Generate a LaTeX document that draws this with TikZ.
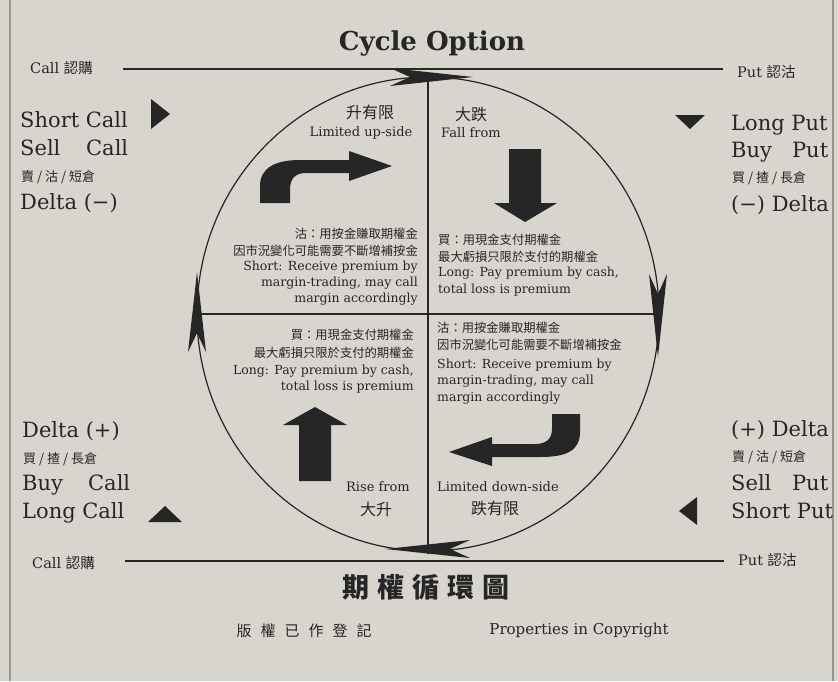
\documentclass[tikz,border=0pt]{standalone}
\usepackage{fontspec}
\setmainfont{DejaVu Serif}
\newfontfamily\cjk{Noto Sans CJK TC}
\definecolor{paper}{RGB}{216,213,206}
\definecolor{ink}{RGB}{38,38,38}
\definecolor{edge}{RGB}{150,148,142}
\tikzset{
  lab/.style={font=\fontsize{21}{23}\selectfont},
  lcjk/.style={font=\cjk\fontsize{13}{15}\selectfont},
  axlab/.style={font=\fontsize{14.5}{16}\selectfont},
  small/.style={font=\fontsize{12.5}{14}\selectfont},
  scjk/.style={font=\cjk\fontsize{12.3}{14}\selectfont},
  headtxt/.style={font=\fontsize{13}{15}\selectfont},
  hcjk/.style={font=\cjk\fontsize{16}{18}\selectfont},
  blk/.style={fill=ink, draw=none},
  axisline/.style={draw=ink, line width=2.6pt},
  rule/.style={draw=ink, line width=2.2pt},
  circ/.style={draw=ink, line width=1.2pt},
}
\begin{document}
\begin{tikzpicture}[x=1pt,y=-1pt, every node/.style={inner sep=0pt, text=ink}]
\fill[paper] (0,0) rectangle (838,681);
\useasboundingbox (0,0) rectangle (838,681);
\draw[edge, line width=1.5pt] (10,0) -- (10,681);
\draw[edge, line width=1.5pt] (833,0) -- (833,681);

% title
\node[font=\bfseries\fontsize{26}{28}\selectfont] (title) at (432,44) {Cycle Option};

% top and bottom rules
\node[axlab, anchor=west] (calltop) at (30,68) {Call {\cjk 認購}};
\node[axlab, anchor=west] (puttop) at (737,72) {Put {\cjk 認沽}};
\coordinate (rt1) at (123,69);
\coordinate (rt2) at (723,69);
\draw[rule] (rt1) -- (rt2);
\node[axlab, anchor=west] (callbot) at (32,563) {Call {\cjk 認購}};
\node[axlab, anchor=west] (putbot) at (738,560) {Put {\cjk 認沽}};
\coordinate (rb1) at (125,561);
\coordinate (rb2) at (724,561);
\draw[rule] (rb1) -- (rb2);

% circle and axes
\draw[circ] (428,314) ellipse [x radius=231, y radius=237];
\coordinate (T) at (428,72);
\coordinate (B) at (428,554);
\coordinate (L) at (197,314);
\coordinate (R) at (658,314);
\draw[axisline] (T) -- (B);
\draw[axisline] (L) -- (R);

% cycle arrowheads (clockwise)
\fill[blk] (390,68) -- (473,77) -- (390,86) -- (410,77) -- cycle;
\fill[blk] (649,274) -- (658,357) -- (667,274) -- (658,294) -- cycle;
\fill[blk] (470,540) -- (385,549) -- (470,558) -- (450,549) -- cycle;
\fill[blk] (188,352) -- (197,272) -- (206,352) -- (197,333) -- cycle;

% side labels: top left
\node[lab, anchor=west] (sc) at (20,120) {Short Call};
\node[lab, anchor=west] (slc) at (20,148) {\hbox to 108pt{Sell\hfill Call}};
\node[lcjk, anchor=west] (tlc) at (21,177) {賣 / 沽 / 短倉};
\node[lab, anchor=west] (dm) at (20,203) {Delta (−)};
\fill[blk] (151,99) -- (170,114) -- (151,129) -- cycle;

% top right
\node[lab, anchor=west] (lp) at (731,125) {Long Put};
\node[lab, anchor=west] (bp) at (731,152) {\hbox to 97pt{Buy\hfill Put}};
\node[lcjk, anchor=west] (trc) at (732,178) {買 / 揸 / 長倉};
\node[lab, anchor=west] (md) at (731,205) {(−) Delta};
\fill[blk] (675,115) -- (705,115) -- (690,129) -- cycle;

% bottom left
\node[lab, anchor=west] (dp) at (22,431) {Delta (+)};
\node[lcjk, anchor=west] (blc) at (23,459) {買 / 揸 / 長倉};
\node[lab, anchor=west] (bc) at (22,485) {\hbox to 108pt{Buy\hfill Call}};
\node[lab, anchor=west] (lc) at (22,513) {Long Call};
\fill[blk] (148,522) -- (182,522) -- (165,506) -- cycle;

% bottom right
\node[lab, anchor=west] (pd) at (731,430) {(+) Delta};
\node[lcjk, anchor=west] (brc) at (732,457) {賣 / 沽 / 短倉};
\node[lab, anchor=west] (sp) at (731,483) {\hbox to 97pt{Sell\hfill Put}};
\node[lab, anchor=west] (shp) at (731,511) {Short Put};
\fill[blk] (697,497) -- (697,525) -- (679,511) -- cycle;

% quadrant TL
\node[hcjk] (q1h) at (370,112) {升有限};
\node[headtxt] (q1e) at (361,133) {Limited up-side};
\fill[blk] (260,203) -- (260,186) .. controls (260,168) and (275,160) .. (300,160) -- (349,160) -- (349,151) -- (392,166) -- (349,181) -- (349,173) -- (306,173) .. controls (296,173) and (290,178) .. (290,189) -- (290,203) -- cycle;
\node[scjk, anchor=east] (q1a) at (418,234) {沽：用按金賺取期權金};
\node[scjk, anchor=east] (q1b) at (418,251) {因市況變化可能需要不斷增補按金};
\node[small, anchor=east] (q1c) at (418,267) {Short: Receive premium by};
\node[small, anchor=east] (q1d) at (418,283) {margin-trading, may call};
\node[small, anchor=east] (q1f) at (418,299) {margin accordingly};

% quadrant TR
\node[hcjk] (q2h) at (471,114) {大跌};
\node[headtxt] (q2e) at (471,133) {Fall from};
\fill[blk] (509,149) -- (541,149) -- (541,203) -- (557,203) -- (525,222) -- (494,203) -- (509,203) -- cycle;
\node[scjk, anchor=west] (q2a) at (438,240) {買：用現金支付期權金};
\node[scjk, anchor=west] (q2b) at (438,257) {最大虧損只限於支付的期權金};
\node[small, anchor=west] (q2c) at (438,273) {Long: Pay premium by cash,};
\node[small, anchor=west] (q2d) at (438,290) {total loss is premium};

% quadrant BL
\node[scjk, anchor=east] (q3a) at (414,335) {買：用現金支付期權金};
\node[scjk, anchor=east] (q3b) at (414,353) {最大虧損只限於支付的期權金};
\node[small, anchor=east] (q3c) at (414,371) {Long: Pay premium by cash,};
\node[small, anchor=east] (q3d) at (414,387) {total loss is premium};
\fill[blk] (299,481) -- (331,481) -- (331,425) -- (347,425) -- (315,407) -- (283,425) -- (299,425) -- cycle;
\node[headtxt] (q3e) at (378,487) {Rise from};
\node[hcjk] (q3h) at (376,509) {大升};

% quadrant BR
\node[scjk, anchor=west] (q4a) at (437,328) {沽：用按金賺取期權金};
\node[scjk, anchor=west] (q4b) at (437,345) {因市況變化可能需要不斷增補按金};
\node[small, anchor=west] (q4c) at (437,365) {Short: Receive premium by};
\node[small, anchor=west] (q4d) at (437,381) {margin-trading, may call};
\node[small, anchor=west] (q4f) at (437,398) {margin accordingly};
\fill[blk] (580,414) -- (580,432) .. controls (580,451) and (566,457) .. (540,457) -- (492,457) -- (492,466) -- (449,452) -- (492,437) -- (492,444) -- (535,444) .. controls (546,444) and (552,439) .. (552,429) -- (552,414) -- cycle;
\node[headtxt, anchor=west] (q4e) at (437,487) {Limited down-side};
\node[hcjk] (q4h) at (495,508) {跌有限};

% bottom captions
\node[font=\cjk\bfseries\fontsize{27}{29}\selectfont] (cap) at (426,587) {期\kern8pt 權\kern8pt 循\kern8pt 環\kern8pt 圖};
\node[font=\cjk\fontsize{15}{17}\selectfont] (copyc) at (304,631) {版\kern9pt 權\kern9pt 已\kern9pt 作\kern9pt 登\kern9pt 記};
\node[font=\fontsize{15}{17}\selectfont] (copye) at (579,630) {Properties in Copyright};
\end{tikzpicture}
\end{document}
